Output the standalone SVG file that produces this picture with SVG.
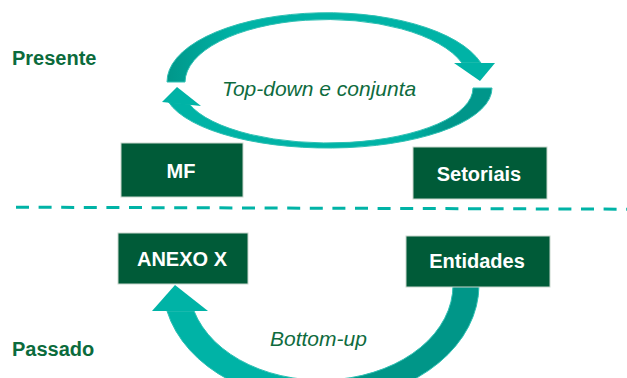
<svg xmlns="http://www.w3.org/2000/svg" width="627" height="378" viewBox="0 0 627 378">
<defs>
<linearGradient id="gUp" gradientUnits="userSpaceOnUse" x1="167" y1="0" x2="480" y2="0">
<stop offset="0" stop-color="#00978A"/><stop offset="0.22" stop-color="#00B3A6"/><stop offset="1" stop-color="#00B3A6"/>
</linearGradient>
<linearGradient id="gLow" gradientUnits="userSpaceOnUse" x1="163" y1="0" x2="492" y2="0">
<stop offset="0" stop-color="#00B3A6"/><stop offset="0.74" stop-color="#00B3A6"/><stop offset="0.86" stop-color="#00968A"/><stop offset="1" stop-color="#00968A"/>
</linearGradient>
<linearGradient id="gBot" gradientUnits="userSpaceOnUse" x1="167" y1="0" x2="479" y2="0">
<stop offset="0" stop-color="#00B3A6"/><stop offset="0.5" stop-color="#00B3A6"/><stop offset="0.58" stop-color="#009688"/><stop offset="1" stop-color="#009688"/>
</linearGradient>
<style>
.box{fill:#005B38;stroke:#c9d7ce;stroke-width:1}
.bt{font-family:"Liberation Sans",Arial,sans-serif;font-weight:bold;font-size:20px;fill:#ffffff;text-anchor:middle}
.lbl{font-family:"Liberation Sans",Arial,sans-serif;font-weight:bold;font-size:20px;fill:#0B6B3C}
.it{font-family:"Liberation Sans",Arial,sans-serif;font-style:italic;font-size:21px;fill:#0E6B3E}
.arr{stroke:#2EC0B3;stroke-width:1;stroke-linejoin:round}
.head{fill:#00B3A6}
</style>
</defs>
<rect width="627" height="378" fill="#ffffff"/>

<g id="labels">
<text class="lbl" x="12" y="65">Presente</text>
<text class="lbl" x="12" y="356">Passado</text>
</g>

<g id="connectors">
<path class="arr" fill="url(#gUp)" d="M167,82 A160,69 0 0 1 481,63 L462,63 A142,63 0 0 0 185,82 Z"/>
<polygon class="head" points="454,63 495,63 480,81"/>
<path class="arr" fill="url(#gLow)" d="M492,88 A164,60 0 0 1 168.5,102 L189.3,104 A145,55 0 0 0 473,88 Z"/>
<polygon class="head" points="162,102 177,87 201,106"/>
<path class="arr" fill="url(#gBot)" d="M479,285 A158,117 0 0 1 167,311 L194,311 A132,95 0 0 0 453,285 Z"/>
<polygon class="head" points="152,311 175,285 208,311"/>
<line x1="16" y1="207.2" x2="627" y2="209.2" stroke="#00B3A6" stroke-width="3" stroke-dasharray="13 9.6"/>
<text class="it" x="222" y="96">Top-down e conjunta</text>
<text class="it" x="270" y="346">Bottom-up</text>
</g>

<g id="node-mf">
<rect class="box" x="121" y="143" width="122" height="54"/>
<text class="bt" x="181" y="178">MF</text>
</g>
<g id="node-setoriais">
<rect class="box" x="413" y="147" width="134" height="52"/>
<text class="bt" x="479" y="181">Setoriais</text>
</g>
<g id="node-anexo">
<rect class="box" x="118" y="233" width="130" height="51"/>
<text class="bt" x="182" y="266">ANEXO X</text>
</g>
<g id="node-entidades">
<rect class="box" x="406" y="236" width="144" height="51"/>
<text class="bt" x="477" y="268">Entidades</text>
</g>
</svg>
